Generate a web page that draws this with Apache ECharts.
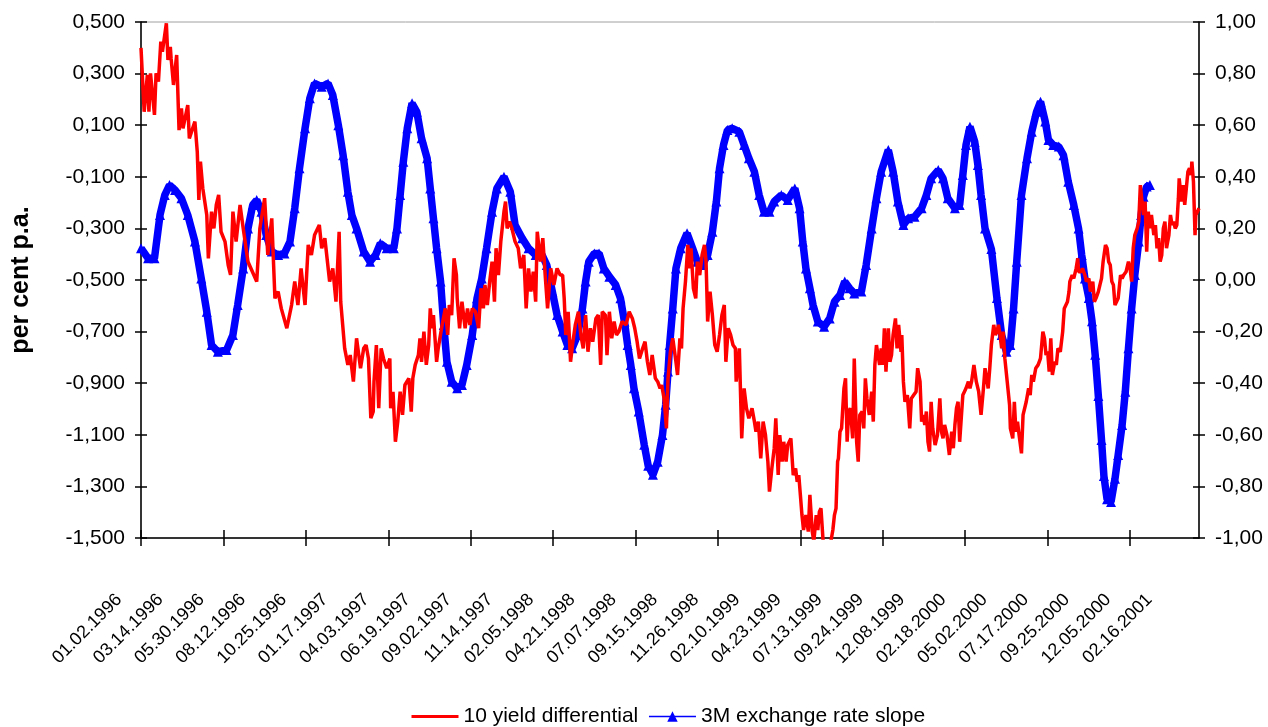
<!DOCTYPE html>
<html>
<head>
<meta charset="utf-8">
<script src="https://cdn.jsdelivr.net/npm/echarts@6/dist/echarts.min.js"></script>
<style>
html,body{margin:0;padding:0;background:#fff;}
#chart{width:1268px;height:727px;}
</style>
</head>
<body>
<div id="chart"></div>
<script>
// Number of daily observations on the category axis
const N = 1336;
const categories = Array.from({length: N}, (_, i) => String(i));
// Tick labels: one every 52 observations
const tickLabels = ['01.02.1996','03.14.1996','05.30.1996','08.12.1996','10.25.1996','01.17.1997','04.03.1997','06.19.1997','09.02.1997','11.14.1997','02.05.1998','04.21.1998','07.07.1998','09.15.1998','11.26.1998','02.10.1999','04.23.1999','07.13.1999','09.24.1999','12.08.1999','02.18.2000','05.02.2000','07.17.2000','09.25.2000','12.05.2000','02.16.2001'];
const seriesNames = ['10 yield differential', '3M exchange rate slope'];

// 10 yield differential (left axis) : [observation index, value]
const yieldDiff = [
[0,0.40],[4,0.152],[8,0.295],[10,0.152],[12,0.301],[17,0.140],[19,0.301],[22,0.269],[25,0.424],[27,0.385],[32,0.495],[34,0.353],[37,0.404],[38,0.359],[41,0.256],[45,0.372],[48,0.081],[51,0.165],[53,0.088],[59,0.178],[61,0.049],[68,0.114],[71,-0.003],[73,-0.19],[75,-0.041],[78,-0.145],[83,-0.248],[85,-0.416],[89,-0.235],[92,-0.30],[95,-0.209],[98,-0.17],[101,-0.313],[106,-0.351],[110,-0.442],[113,-0.48],[116,-0.235],[120,-0.351],[125,-0.209],[129,-0.30],[135,-0.429],[146,-0.506],[150,-0.30],[156,-0.183],[160,-0.403],[165,-0.261],[169,-0.571],[173,-0.545],[177,-0.61],[184,-0.687],[190,-0.597],[194,-0.506],[198,-0.597],[202,-0.455],[207,-0.597],[211,-0.364],[215,-0.403],[219,-0.326],[225,-0.287],[228,-0.377],[232,-0.338],[238,-0.506],[242,-0.455],[246,-0.584],[250,-0.313],[252,-0.584],[257,-0.765],[261,-0.829],
[264,-0.791],[268,-0.894],[272,-0.726],[277,-0.842],[281,-0.765],[284,-0.752],[287,-0.804],[290,-1.036],[293,-1.010],[294,-0.894],[297,-0.752],[300,-0.997],[303,-0.765],[306,-0.804],[310,-0.842],[314,-0.804],[315,-0.997],[318,-0.933],[321,-1.127],[324,-1.049],[327,-0.933],[330,-1.023],[333,-0.907],[338,-0.881],[341,-1.010],[343,-0.881],[346,-0.829],[350,-0.791],[352,-0.726],[354,-0.817],[357,-0.700],[360,-0.829],[363,-0.752],[365,-0.610],[367,-0.687],[369,-0.636],[373,-0.817],[375,-0.765],[380,-0.674],[384,-0.610],[387,-0.713],[389,-0.597],[392,-0.636],[395,-0.416],[398,-0.481],[399,-0.571],[402,-0.687],[405,-0.584],[409,-0.687],[412,-0.610],[415,-0.674],[418,-0.610],[422,-0.623],[426,-0.687],[429,-0.532],[432,-0.610],[434,-0.519],[437,-0.597],[440,-0.506],[443,-0.429],[446,-0.584],[448,-0.377],[451,-0.481],[454,-0.351],[458,-0.235],[460,-0.196],[462,-0.30],[465,-0.274],[468,-0.30],[472,-0.351],[476,-0.377],[479,-0.455],[483,-0.403],[486,-0.610],[489,-0.455],[492,-0.545],[495,-0.468],[498,-0.584],[500,-0.313],[504,-0.429],[507,-0.338],[510,-0.481],[513,-0.610],[517,-0.455],[521,-0.519],[525,-0.455],[529,-0.481],
[532,-0.481],[534,-0.571],[536,-0.713],[539,-0.623],[542,-0.817],[545,-0.739],[548,-0.674],[552,-0.623],[555,-0.713],[558,-0.765],[561,-0.636],[564,-0.778],[567,-0.687],[570,-0.739],[574,-0.649],[577,-0.636],[580,-0.829],[582,-0.623],[586,-0.636],[588,-0.791],[591,-0.623],[594,-0.726],[597,-0.661],[600,-0.713],[603,-0.700],[607,-0.661],[612,-0.674],[616,-0.623],[620,-0.649],[623,-0.687],[626,-0.739],[629,-0.804],[633,-0.765],[636,-0.739],[639,-0.817],[642,-0.868],[645,-0.791],[649,-0.881],[652,-0.894],[655,-0.920],[657,-0.907],[660,-0.959],[663,-1.075],[665,-0.881],[668,-0.778],[671,-0.726],[675,-0.817],[677,-0.868],[680,-0.726],[682,-0.765],[684,-0.610],[687,-0.506],[690,-0.364],[692,-0.455],[694,-0.377],[697,-0.532],[700,-0.571],[702,-0.429],[705,-0.481],[708,-0.403],[711,-0.364],[713,-0.429],[715,-0.661],[718,-0.545],[721,-0.636],[724,-0.752],[727,-0.778],[730,-0.713],[733,-0.636],[736,-0.597],[738,-0.817],[741,-0.687],[744,-0.713],[747,-0.752],[750,-0.765],[751,-0.894],[755,-0.765],[758,-1.114],[761,-0.920],[764,-0.997],[767,-1.036],[771,-0.997],[774,-1.049],[776,-1.088],[779,-1.049],[782,-1.191],[785,-1.049],[788,-1.101],[791,-1.204],[793,-1.320],[796,-1.230],
[799,-1.152],[801,-1.036],[804,-1.256],[806,-1.101],[809,-1.204],[811,-1.127],[814,-1.204],[816,-1.140],[820,-1.114],[823,-1.256],[826,-1.230],[828,-1.282],[830,-1.256],[832,-1.333],[834,-1.411],[836,-1.469],[839,-1.411],[842,-1.475],[844,-1.333],[847,-1.475],[849,-1.514],[852,-1.411],[854,-1.469],[856,-1.398],[858,-1.385],[861,-1.527],[865,-1.566],[869,-1.54],[873,-1.469],[875,-1.411],[877,-1.385],[879,-1.204],[880,-1.191],[882,-1.088],[884,-1.075],[887,-0.920],[889,-0.881],[891,-1.127],[893,-1.010],[895,-0.997],[898,-1.114],[900,-0.804],[903,-1.127],[905,-1.204],[907,-1.023],[910,-1.010],[912,-1.075],[914,-0.881],[916,-0.959],[919,-1.023],[922,-0.933],[924,-1.049],[926,-0.829],[928,-0.752],[930,-0.791],[932,-0.829],[934,-0.765],[936,-0.829],[938,-0.687],[940,-0.855],[943,-0.687],[945,-0.817],[947,-0.791],[949,-0.713],[952,-0.649],[954,-0.765],[956,-0.674],[959,-0.778],[960,-0.713],[962,-0.894],[964,-0.972],[967,-0.946],[970,-1.075],[972,-0.959],[975,-0.946],[978,-0.933],[980,-0.842],[983,-0.894],[985,-1.049],[987,-1.023],[989,-1.062],[991,-1.010],[993,-1.127],[995,-1.165],[997,-0.972],[999,-1.075],[1002,-1.140],[1005,-1.101],[1008,-0.959],[1010,-1.088],[1012,-1.114],[1014,-1.062],[1017,-1.101],[1020,-1.178],[1023,-1.088],[1025,-1.152],[1027,-1.062],[1029,-0.997],[1031,-0.972],[1033,-1.127],[1035,-1.036],[1037,-0.946],[1039,-0.933],[1041,-0.920],[1044,-0.894],[1046,-0.920],[1048,-0.894],[1051,-0.829],[1054,-0.894],[1057,-0.933],[1060,-1.023],[1063,-0.920],[1065,-0.842],
[1069,-0.920],[1071,-0.842],[1073,-0.752],[1076,-0.674],[1078,-0.713],[1080,-0.700],[1082,-0.674],[1084,-0.713],[1086,-0.765],[1088,-0.700],[1090,-0.804],[1093,-0.894],[1096,-0.985],[1097,-1.075],[1100,-1.114],[1102,-0.972],[1104,-1.088],[1106,-1.049],[1108,-1.101],[1111,-1.172],[1113,-1.023],[1117,-0.972],[1120,-0.920],[1122,-0.946],[1124,-0.868],[1126,-0.894],[1129,-0.842],[1132,-0.829],[1135,-0.804],[1138,-0.700],[1140,-0.726],[1142,-0.791],[1144,-0.778],[1146,-0.855],[1148,-0.726],[1150,-0.868],[1153,-0.817],[1155,-0.829],[1157,-0.765],[1160,-0.778],[1163,-0.700],[1165,-0.610],[1167,-0.610],[1169,-0.584],[1171,-0.545],[1172,-0.506],[1175,-0.481],[1177,-0.494],[1180,-0.455],[1182,-0.416],[1183,-0.468],[1186,-0.468],[1188,-0.455],[1191,-0.481],[1193,-0.506],[1196,-0.494],[1198,-0.545],[1201,-0.506],[1203,-0.584],[1205,-0.571],[1208,-0.545],[1210,-0.519],[1212,-0.494],[1214,-0.429],[1217,-0.364],[1219,-0.377],[1221,-0.429],[1223,-0.442],[1225,-0.506],[1227,-0.519],[1229,-0.597],[1231,-0.597],[1233,-0.571],[1236,-0.481],[1238,-0.494],[1240,-0.481],[1243,-0.468],[1246,-0.429],[1248,-0.455],[1250,-0.506],[1252,-0.377],[1254,-0.326],[1257,-0.30],[1259,-0.274],[1261,-0.132],[1263,-0.196],[1265,-0.248],[1267,-0.196],[1269,-0.390],[1271,-0.235],[1273,-0.30],[1275,-0.248],[1278,-0.326],[1280,-0.287],[1282,-0.377],[1284,-0.338],[1286,-0.429],[1288,-0.403],[1290,-0.30],[1292,-0.274],[1294,-0.377],[1297,-0.326],[1299,-0.248],[1301,-0.287],[1303,-0.274],[1305,-0.30],[1307,-0.287],[1309,-0.183],[1310,-0.106],[1313,-0.196],[1315,-0.132],[1317,-0.209],[1319,-0.145],[1321,-0.080],[1323,-0.067],[1325,-0.093],[1326,-0.041],[1328,-0.119],[1330,-0.326],[1331,-0.248],[1333,-0.235],[1335,-0.222]
];

// 3M exchange rate slope (right axis) : [observation index, value]
const fxSlope = [
[0,0.123],[9,0.084],[17,0.084],[24,0.252],[30,0.329],[36,0.368],[43,0.349],[51,0.317],[59,0.252],[68,0.149],[76,0.006],[83,-0.123],[89,-0.252],[97,-0.278],[108,-0.271],[116,-0.213],[122,-0.097],[129,0.045],[135,0.20],[141,0.291],[146,0.31],[152,0.265],[158,0.174],[165,0.11],[173,0.097],[181,0.103],[188,0.149],[194,0.278],[200,0.433],[207,0.588],[213,0.704],[219,0.762],[228,0.749],[236,0.762],[242,0.717],[249,0.60],[255,0.484],[261,0.342],
[266,0.252],[272,0.20],[281,0.11],[289,0.071],[296,0.097],[302,0.142],[310,0.123],[319,0.123],[323,0.20],[327,0.329],[331,0.458],[336,0.588],[342,0.685],[348,0.652],[354,0.549],[361,0.472],[365,0.355],[369,0.239],[373,0.123],[378,-0.006],[382,-0.174],[386,-0.317],[392,-0.394],[399,-0.42],[405,-0.407],[411,-0.329],[418,-0.213],[424,-0.071],[430,0.006],[436,0.123],[443,0.265],[449,0.355],[458,0.40],[466,0.342],[472,0.213],[481,0.162],[489,0.123],[498,0.097],[506,0.097],[512,0.058],[519,-0.045],[525,-0.136],
[532,-0.20],[538,-0.252],[544,-0.265],[551,-0.213],[557,-0.11],[561,-0.006],[565,0.071],[572,0.103],[578,0.103],[584,0.045],[591,0.013],[599,-0.019],[605,-0.071],[610,-0.161],[614,-0.252],[618,-0.329],[622,-0.42],[628,-0.51],[635,-0.639],[640,-0.72],[646,-0.755],[652,-0.704],[658,-0.601],[662,-0.484],[665,-0.355],[667,-0.252],[671,-0.11],[675,0.045],[681,0.123],[689,0.181],[696,0.123],[702,0.071],[708,0.058],[715,0.097],[721,0.187],[726,0.304],[730,0.433],[735,0.523],[740,0.581],[746,0.588],[755,0.575],[761,0.523],[767,0.472],[774,0.42],[780,0.329],[786,0.265],[793,0.265],
[799,0.304],[808,0.329],[816,0.31],[825,0.355],[831,0.278],[835,0.149],[839,0.045],[844,-0.032],[848,-0.097],[854,-0.161],[862,-0.181],[869,-0.149],[875,-0.084],[882,-0.058],[888,-0.006],[894,-0.032],[900,-0.052],[909,-0.045],[915,0.058],[922,0.20],[928,0.317],[934,0.42],[943,0.504],[949,0.42],[955,0.304],[962,0.213],[968,0.239],[976,0.245],[985,0.278],[991,0.329],[997,0.394],[1006,0.426],[1012,0.394],[1018,0.317],[1027,0.278],[1033,0.291],[1037,0.407],[1041,0.523],[1046,0.594],[1052,0.536],[1056,0.446],[1060,0.329],[1065,0.20],
[1073,0.12],[1080,-0.07],[1086,-0.213],[1092,-0.278],[1097,-0.252],[1101,-0.11],[1105,0.071],[1111,0.329],[1118,0.472],[1124,0.575],[1130,0.652],[1135,0.691],[1141,0.614],[1145,0.543],[1151,0.523],[1158,0.517],[1164,0.484],[1170,0.381],[1177,0.291],[1183,0.20],[1187,0.097],[1191,0.006],[1196,-0.07],[1200,-0.16],[1204,-0.29],[1208,-0.45],[1212,-0.62],[1215,-0.76],[1219,-0.85],[1224,-0.86],[1229,-0.77],[1233,-0.678],[1238,-0.562],[1242,-0.433],[1246,-0.265],[1250,-0.11],[1254,0.019],[1259,0.149],[1262,0.252],[1265,0.323],[1269,0.362],[1273,0.368]
];

function fmt(v, d) {
  if (Math.abs(v) < 1e-9) v = 0;
  return v.toFixed(d).replace('.', ',');
}
const FONT = 'Liberation Sans, Arial, sans-serif';
const tickStyle = {color: '#000', width: 1.5};

const chart = echarts.init(document.getElementById('chart'), null, {renderer: 'canvas'});
chart.setOption({
  backgroundColor: '#ffffff',
  animation: false,
  textStyle: {fontFamily: FONT, color: '#000'},
  grid: {left: 141, right: 69, top: 22, bottom: 189, show: true, borderColor: '#a0a0a0', borderWidth: 1, containLabel: false},
  legend: {
    data: [
      {name: seriesNames[0], lineStyle: {width: 3}, itemStyle: {opacity: 0}},
      {name: seriesNames[1], lineStyle: {width: 1.5}}
    ],
    left: 405, top: 701,
    itemWidth: 47, itemHeight: 13, itemGap: 10,
    textStyle: {fontFamily: FONT, fontSize: 21, color: '#000'}
  },
  xAxis: [
    {
      type: 'category',
      data: categories,
      boundaryGap: false,
      axisLine: {onZero: false, lineStyle: tickStyle},
      axisTick: {interval: 103, length: 8, lineStyle: tickStyle},
      axisLabel: {
        interval: 51,
        rotate: 45,
        margin: 37,
        padding: [0, 31, 0, 0],
        fontFamily: FONT, fontSize: 18, color: '#000',
        formatter: function (v, i) { return (i % 52 === 0 && tickLabels[i / 52]) ? tickLabels[i / 52] : ''; }
      },
      splitLine: {show: false}
    },
    {
      type: 'category', data: categories, boundaryGap: false, position: 'bottom',
      axisLine: {show: false, onZero: false},
      axisTick: {interval: 103, length: 8, inside: true, lineStyle: tickStyle},
      axisLabel: {show: false}, splitLine: {show: false}
    }
  ],
  yAxis: [
    {
      type: 'value', min: -1.5, max: 0.5, interval: 0.2, position: 'left',
      name: 'per cent p.a.', nameLocation: 'middle', nameGap: 107, nameRotate: 90,
      nameTextStyle: {fontFamily: FONT, fontSize: 25, fontWeight: 'bold', color: '#000'},
      axisLine: {show: true, lineStyle: tickStyle},
      axisTick: {show: true, length: 6, lineStyle: tickStyle},
      axisLabel: {margin: 16, fontFamily: FONT, fontSize: 21, color: '#000', formatter: v => fmt(v, 3)},
      splitLine: {show: false}
    },
    {
      type: 'value', min: -1, max: 1, interval: 0.2, position: 'right',
      axisLine: {show: true, lineStyle: tickStyle},
      axisTick: {show: true, length: 6, lineStyle: tickStyle},
      axisLabel: {margin: 16, fontFamily: FONT, fontSize: 21, color: '#000', formatter: v => fmt(v, 2)},
      splitLine: {show: false}
    },
    {
      type: 'value', min: -1.5, max: 0.5, interval: 0.2, position: 'left',
      axisLine: {show: false}, axisTick: {show: true, inside: true, length: 6, lineStyle: tickStyle},
      axisLabel: {show: false}, splitLine: {show: false}
    },
    {
      type: 'value', min: -1, max: 1, interval: 0.2, position: 'right',
      axisLine: {show: false}, axisTick: {show: true, inside: true, length: 6, lineStyle: tickStyle},
      axisLabel: {show: false}, splitLine: {show: false}
    }
  ],
  series: [
    {
      name: seriesNames[0], type: 'line', xAxisIndex: 0, yAxisIndex: 0, data: yieldDiff,
      showSymbol: false, symbol: 'none', z: 3, clip: true,
      lineStyle: {color: '#ff0000', width: 3.5}, itemStyle: {color: '#ff0000'}
    },
    {
      name: seriesNames[1], type: 'line', xAxisIndex: 0, yAxisIndex: 1, data: fxSlope,
      symbol: 'triangle', symbolSize: 10, showSymbol: true, showAllSymbol: true, z: 2, clip: true,
      lineStyle: {color: '#0000ff', width: 7.5}, itemStyle: {color: '#0000ff'}
    }
  ]
});
</script>
</body>
</html>
